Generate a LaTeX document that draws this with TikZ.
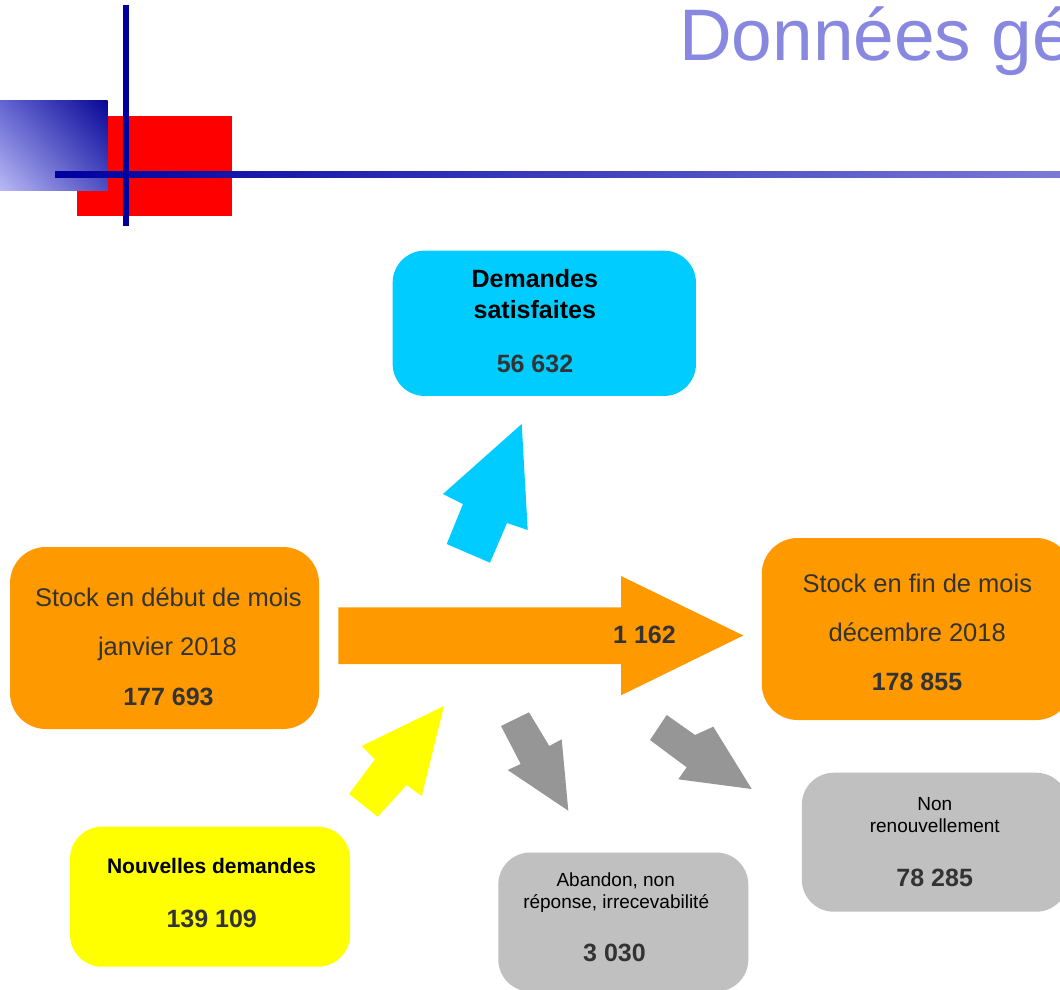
\documentclass[tikz,border=0pt]{standalone}
\usepackage{fontspec}
\usetikzlibrary{shadings}
\setmainfont{Liberation Sans}
\definecolor{navy}{RGB}{0,0,160}
\definecolor{hlend}{RGB}{122,122,214}
\definecolor{titlecol}{RGB}{136,136,224}
\definecolor{cyanbox}{RGB}{0,204,255}
\definecolor{orangebox}{RGB}{255,153,0}
\definecolor{yellowbox}{RGB}{255,255,0}
\definecolor{graybox}{RGB}{192,192,192}
\definecolor{grayarrow}{RGB}{150,150,150}
\definecolor{txtdark}{RGB}{51,51,51}
\definecolor{sqUR}{RGB}{8,8,150}
\definecolor{sqUL}{RGB}{100,100,210}
\definecolor{sqLR}{RGB}{78,78,195}
\definecolor{sqLL}{RGB}{185,185,245}
\tikzset{
  box/.style={rounded corners=32pt, inner sep=0pt, draw=none, minimum width=#1},
  lbl/.style={anchor=base, inner sep=0pt, text=txtdark},
  num/.style={lbl, font=\fontsize{25}{30}\selectfont\bfseries},
  big/.style={lbl, font=\fontsize{25.5}{30}\selectfont},
  headb/.style={lbl, text=black, font=\fontsize{25}{30}\selectfont\bfseries},
  small/.style={lbl, text=black, font=\fontsize{19}{22}\selectfont},
  blockarrow/.style={draw=none}
}
\begin{document}
\begin{tikzpicture}[x=1pt,y=-1pt]
\useasboundingbox (0,0) rectangle (1060,990);
\begin{scope}
\clip (0,0) rectangle (1060,990);
\fill[white] (0,0) rectangle (1060,990);

% header decoration
\fill[red] (76.7,116) rectangle (231.7,216);
\shade[upper left=sqUL, upper right=sqUR, lower left=sqLL, lower right=sqLR]
  (0,100.7) rectangle (107.7,190);
\shade[left color=navy, right color=hlend] (55,171) rectangle (1060,177.7);
\fill[navy] (123.3,5) rectangle (129.3,225.7);
\node[anchor=base west, inner sep=0pt, text=titlecol,
      font=\fontsize{73}{80}\selectfont] (title) at (679,60) {Données gé};

% boxes
\node[box=303.3pt, minimum height=145.3pt, fill=cyanbox] (sat) at (544.3,323.3) {};
\node[box=309pt, minimum height=182pt, fill=orangebox, rounded corners=36pt] (debut) at (164.5,638) {};
\node[box=310.3pt, minimum height=182pt, fill=orangebox, rounded corners=36pt] (fin) at (916.9,629) {};
\node[box=280pt, minimum height=140pt, fill=yellowbox] (nouv) at (210,896.7) {};
\node[box=250pt, minimum height=139pt, fill=graybox] (aband) at (623.3,922) {};
\node[box=266.3pt, minimum height=139pt, fill=graybox] (nonr) at (935,842.2) {};

% block arrows
\fill[cyanbox, blockarrow] (521.7,424) -- (527.7,530) -- (507,523) -- (490,562.7)
  -- (446.7,544) -- (463,504) -- (443,494) -- cycle;
\fill[orangebox, blockarrow] (338.3,607.3) -- (621,607.3) -- (621,576) -- (743.3,635.5)
  -- (621,695.3) -- (621,664) -- (338.3,664) -- cycle;
\fill[yellowbox, blockarrow] (444,706) -- (421.7,796) -- (406.7,785) -- (377.7,816.7)
  -- (349,794) -- (375,759.3) -- (361.7,746) -- cycle;
\fill[grayarrow, blockarrow] (501,726) -- (529,712.3) -- (549.3,746) -- (561.7,739.3)
  -- (568.3,810.7) -- (507.7,770) -- (520.7,764) -- cycle;
\fill[grayarrow, blockarrow] (650,740) -- (666.7,715) -- (695,735) -- (713.3,726.7)
  -- (751.7,789) -- (678.3,779.3) -- (686.7,767.3) -- cycle;

% texts
\node[headb] (satA) at (534.8,287.7) {Demandes};
\node[headb] (satB) at (534.8,318.3) {satisfaites};
\node[num] (satN) at (535,372.7) {56 632};

\node[big] (debA) at (168.3,606) {Stock en début de mois};
\node[big] (debB) at (167.5,655) {janvier 2018};
\node[num] (debN) at (168.5,705) {177 693};

\node[big] (finA) at (917.3,592.3) {Stock en fin de mois};
\node[big] (finB) at (917.2,641) {décembre 2018};
\node[num] (finN) at (917,690) {178 855};

\node[num] (flowN) at (644.5,643.3) {1 162};

\node[lbl, text=black, font=\fontsize{21}{25}\selectfont\bfseries] (nouvA) at (211.5,873.3) {Nouvelles demandes};
\node[num] (nouvN) at (211.7,927.3) {139 109};

\node[small] (abA) at (615.7,886.7) {Abandon, non};
\node[small] (abB) at (616.2,908.3) {réponse, irrecevabilité};
\node[num] (abN) at (614.5,961.7) {3 030};

\node[small] (nrA) at (934.8,810.7) {Non};
\node[small] (nrB) at (934.8,832.3) {renouvellement};
\node[num] (nrN) at (934.7,886) {78 285};
\end{scope}
\end{tikzpicture}
\end{document}
